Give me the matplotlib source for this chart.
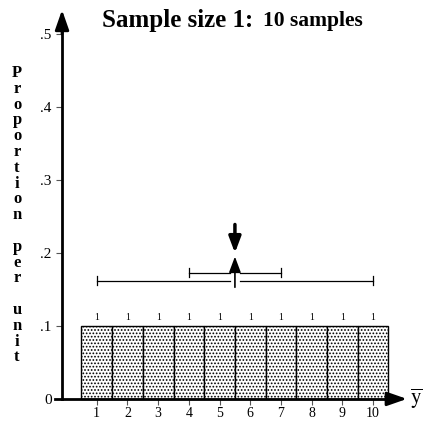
import matplotlib
matplotlib.use("Agg")
import matplotlib.pyplot as plt
import numpy as np

# data
values = np.arange(1, 11)          # sample means (sample size 1)
counts = [1, 1, 1, 1, 1, 1, 1, 1, 1, 1]
n_samples = 10
mean_val = 5.5
full_range = (1, 10)
inner_range = (4, 7)
yticks = [0, 0.1, 0.2, 0.3, 0.4, 0.5]
ytick_labels = ["0", ".1", ".2", ".3", ".4", ".5"]
ylabel = "Proportion per unit"

plt.rcParams['font.family'] = 'Liberation Serif'
plt.rcParams['mathtext.fontset'] = 'stix'
plt.rcParams['hatch.linewidth'] = 0.8

fig = plt.figure(figsize=(4.33, 4.23), dpi=100)
ax = fig.add_axes([0, 0, 1, 1])
ax.set_xlim(-2.15, 11.95)
ax.set_ylim(-0.033, 0.5466)
ax.patch.set_alpha(0)

props = np.array(counts) / n_samples
ax.bar(values, props, width=1, facecolor='white', edgecolor='black',
       linewidth=1.0, hatch='.....')
for v, c, p in zip(values, counts, props):
    ax.text(v, p + 0.006, str(c), ha='center', va='bottom', fontsize=7)

# axes with arrows
ax.spines['top'].set_visible(False)
ax.spines['right'].set_visible(False)
ax.spines['left'].set_position(('data', -0.13))
ax.spines['bottom'].set_position(('data', 0))
ax.spines['left'].set_bounds(0, 0.51)
ax.spines['bottom'].set_bounds(-0.36, 10.7)
ax.spines['left'].set_linewidth(2)
ax.spines['bottom'].set_linewidth(2)
ax.annotate('', xy=(-0.13, 0.533), xytext=(-0.13, 0.5),
            arrowprops=dict(arrowstyle='-|>,head_length=1.0,head_width=0.35', lw=2,
                            color='black', mutation_scale=12, shrinkA=0, shrinkB=0),
            annotation_clip=False)
ax.annotate('', xy=(11.1, 0), xytext=(10.6, 0),
            arrowprops=dict(arrowstyle='-|>,head_length=1.0,head_width=0.35', lw=2,
                            color='black', mutation_scale=12, shrinkA=0, shrinkB=0),
            annotation_clip=False)

ax.set_xticks(values)
ax.set_xticklabels([str(v) for v in values], fontsize=10)
ax.set_yticks(yticks)
ax.set_yticklabels(ytick_labels, fontsize=11)
ax.tick_params(length=4, width=0.8, pad=2, color='#555555')
ax.tick_params(axis='y', pad=3.5)

ax.text(11.2, 0.0, r'$\overline{\mathrm{y}}$', fontsize=15, ha='left', va='center')

# ranges
yo, yi = 0.162, 0.173
gap = 0.15
cap = 0.006
ax.plot([full_range[0], mean_val - gap], [yo, yo], color='black', lw=0.9)
ax.plot([mean_val + gap, full_range[1]], [yo, yo], color='black', lw=0.9)
ax.plot([full_range[0]] * 2, [yo - cap, yo + cap], color='black', lw=0.9)
ax.plot([full_range[1]] * 2, [yo - cap, yo + cap], color='black', lw=0.9)
ax.plot([inner_range[0], mean_val - gap], [yi, yi], color='black', lw=0.9)
ax.plot([mean_val + gap, inner_range[1]], [yi, yi], color='black', lw=0.9)
ax.plot([inner_range[0]] * 2, [yi - cap, yi + cap], color='black', lw=0.9)
ax.plot([inner_range[1]] * 2, [yi - cap, yi + cap], color='black', lw=0.9)
ax.annotate('', xy=(mean_val, 0.195), xytext=(mean_val, 0.153),
            arrowprops=dict(arrowstyle='-|>,head_length=0.8,head_width=0.3', lw=1.2,
                            color='black', mutation_scale=12, shrinkA=0, shrinkB=0))
ax.annotate('', xy=(mean_val, 0.2), xytext=(mean_val, 0.239),
            arrowprops=dict(arrowstyle='-|>,head_length=0.8,head_width=0.3', lw=2.5,
                            color='black', mutation_scale=12, shrinkA=0, shrinkB=0))

# titles
fig.text(102 / 433, 1 - 20 / 423, "Sample size 1:", fontsize=18, fontweight='bold',
         ha='left', va='center')
fig.text(263 / 433, 1 - 21 / 423, "10 samples", fontsize=15.5, fontweight='bold',
         ha='left', va='center')

# stacked vertical label
step = 15.8
top = 73
for i, ch in enumerate(ylabel):
    if ch != ' ':
        fig.text(17 / 433, 1 - (top + i * step) / 423, ch, fontsize=12,
                 fontweight='bold', ha='center', va='center')

fig.savefig("out.png", dpi=100)
